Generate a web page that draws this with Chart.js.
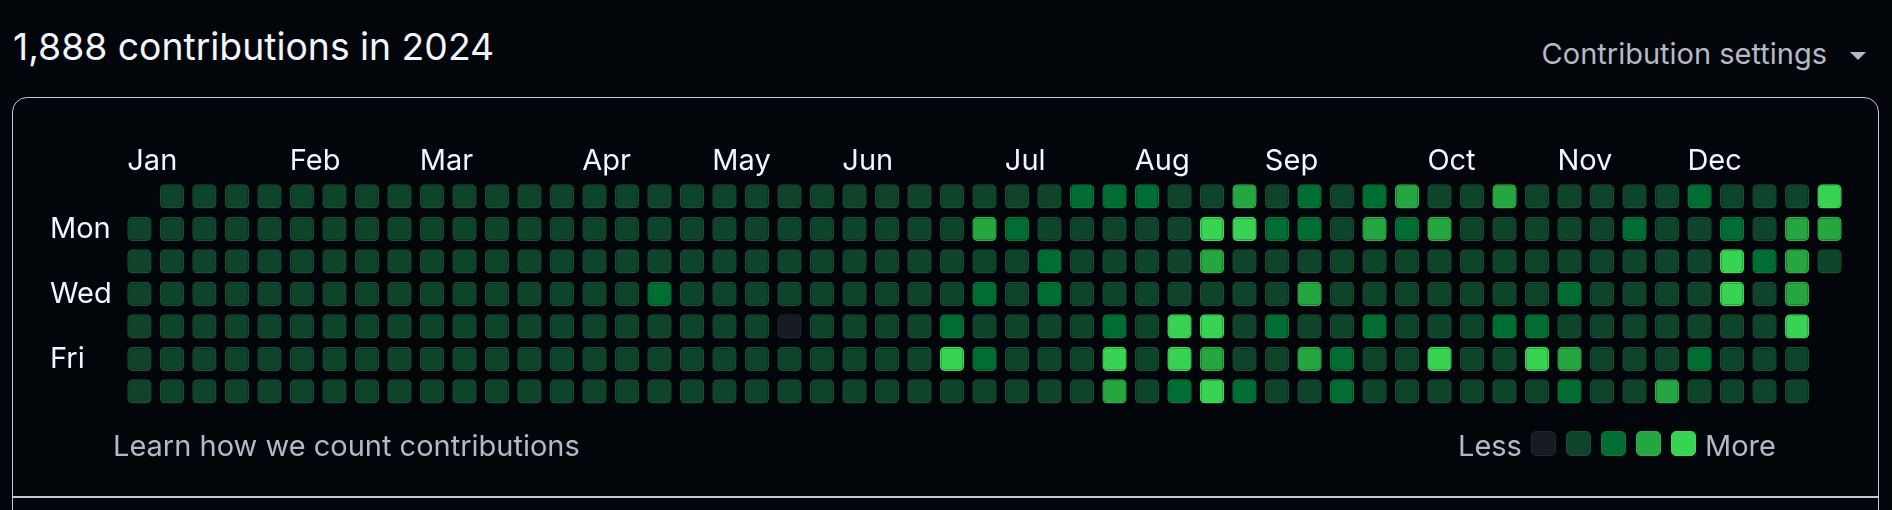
<!DOCTYPE html>
<html>
<head>
<meta charset="utf-8">
<script src="https://cdn.jsdelivr.net/npm/chart.js@4/dist/chart.umd.min.js"></script>
<style>
  html, body { margin: 0; padding: 0; background: #02050a; overflow: hidden; }
  #wrap { position: relative; width: 1892px; height: 510px; font-family: Inter, "Noto Sans", sans-serif; }
  #chart { position: absolute; left: 0; top: 0; }
  .txt { position: absolute; white-space: nowrap; line-height: 1; }
  .title { left: 13px; top: 27.5px; font-size: 37.3px; color: #f0f6fc; }
  .settings { right: 65px; top: 39px; font-size: 29px; color: #b4bac4; }
  .caret { position: absolute; left: 1850px; top: 52px; width: 0; height: 0;
    border-left: 8px solid transparent; border-right: 8px solid transparent; border-top: 8.5px solid #b4bac4; }
  .box { position: absolute; left: 11.7px; top: 96.5px; width: 1867.6px; height: 600px; box-sizing: border-box;
    border: 1.8px solid #c4c9d1; border-radius: 15px; }
  .divider { position: absolute; left: 12px; top: 495.7px; width: 1867px; height: 2px; background: #c4c9d1; }
  .learn { left: 113px; top: 431px; font-size: 29px; color: #b4bac4; }
  .less { left: 1458px; top: 431px; font-size: 29px; color: #b4bac4; }
  .more { left: 1705px; top: 431px; font-size: 29px; color: #b4bac4; }
  .sq { position: absolute; top: 431px; width: 25px; height: 25px; border-radius: 5px; box-sizing: border-box; }
</style>
</head>
<body>
<div id="wrap">
  <div class="box"></div>
  <div class="divider"></div>
  <div class="txt title">1,888 contributions in 2024</div>
  <div class="txt settings">Contribution settings</div>
  <div class="caret"></div>
  <canvas id="chart" width="1892" height="510"></canvas>
  <div class="txt learn">Learn how we count contributions</div>
  <div class="txt less">Less</div>
  <div class="txt more">More</div>
</div>
<script>
// niveles de contribución por día de la semana (una entrada por semana, null = fuera de 2024)
const sun = [null,1,1,1,1,1,1,1,1,1, 1,1,1,1,1,1,1,1,1,1, 1,1,1,1,1,1,1,1,1,2, 2,2,1,1,3,1,2,1,2,3, 1,1,3,1,1,1,1,1,2,1, 1,1,4];
const mon = [1,1,1,1,1,1,1,1,1,1, 1,1,1,1,1,1,1,1,1,1, 1,1,1,1,1,1,3,2,1,1, 1,1,1,4,4,2,2,1,3,2, 3,1,1,1,1,1,2,1,1,2, 1,3,3];
const tue = [1,1,1,1,1,1,1,1,1,1, 1,1,1,1,1,1,1,1,1,1, 1,1,1,1,1,1,1,1,2,1, 1,1,1,3,1,1,1,1,1,1, 1,1,1,1,1,1,1,1,1,4, 2,3,1];
const wed = [1,1,1,1,1,1,1,1,1,1, 1,1,1,1,1,1,2,1,1,1, 1,1,1,1,1,1,2,1,2,1, 1,1,1,1,1,1,3,1,1,1, 1,1,1,1,2,1,1,1,1,4, 1,3,null];
const thu = [1,1,1,1,1,1,1,1,1,1, 1,1,1,1,1,1,1,1,1,1, 0,1,1,1,1,2,1,1,1,1, 2,1,4,4,1,2,1,1,2,1, 1,1,2,2,1,1,1,1,1,1, 1,4,null];
const fri = [1,1,1,1,1,1,1,1,1,1, 1,1,1,1,1,1,1,1,1,1, 1,1,1,1,1,4,2,1,1,1, 4,1,4,3,1,1,3,2,1,1, 4,1,1,4,3,1,1,1,2,1, 1,1,null];
const sat = [1,1,1,1,1,1,1,1,1,1, 1,1,1,1,1,1,1,1,1,1, 1,1,1,1,1,1,1,1,1,1, 3,1,2,4,2,1,1,2,1,1, 1,1,1,1,2,1,1,3,1,1, 1,1,null];

const filas = [sun, mon, tue, wed, thu, fri, sat];
const semanas = sun.map((_, i) => "S" + (i + 1));

const meses = ["Jan", "Feb", "Mar", "Apr", "May", "Jun", "Jul", "Aug", "Sep", "Oct", "Nov", "Dec"];
const inicioMes = [0, 5, 9, 14, 18, 22, 27, 31, 35, 40, 44, 48];
const dias = ["Mon", "Wed", "Fri"];
const filaDia = [1, 3, 5];

const colores = ["#161b22", "#0e4429", "#006d32", "#26a641", "#39d353"];
const bordes = ["#22272e", "#1b4e35", "#0d763d", "#32ab4b", "#44d65c"];

// cuadros de la leyenda
colores.forEach((c, i) => {
  const d = document.createElement("div");
  d.className = "sq";
  d.style.left = (1531 + i * 35) + "px";
  d.style.background = c;
  d.style.border = "1.5px solid " + bordes[i];
  document.getElementById("wrap").appendChild(d);
});

const hueco = 0.126; // fracción de fila vacía arriba y abajo de cada celda

const datasets = filas.map((fila, r) => ({
  label: "row" + r,
  data: fila.map((lv) => (lv === null ? null : [r + hueco, r + 1 - hueco])),
  backgroundColor: fila.map((lv) => (lv === null ? "transparent" : colores[lv])),
  borderColor: fila.map((lv) => (lv === null ? "transparent" : bordes[lv])),
  borderWidth: 1.5,
  borderSkipped: false,
  borderRadius: 5,
  grouped: false,
  barPercentage: 0.748,
  categoryPercentage: 1,
}));

new Chart(document.getElementById("chart"), {
  type: "bar",
  data: { labels: semanas, datasets },
  options: {
    responsive: false,
    animation: false,
    devicePixelRatio: 1,
    layout: { padding: { left: 50, top: 130, right: 46.2, bottom: 102.3 } },
    plugins: { legend: { display: false }, tooltip: { enabled: false } },
    scales: {
      x: {
        type: "category",
        position: "top",
        offset: true,
        grid: { display: false, drawTicks: false },
        border: { display: false },
        ticks: {
          autoSkip: false,
          maxRotation: 0,
          minRotation: 0,
          align: "start",
          labelOffset: -12.15,
          padding: 2,
          color: "#f0f6fc",
          font: { family: "Inter", size: 29, lineHeight: 1.2 },
          callback: (v, i) => {
            const m = inicioMes.indexOf(i);
            return m >= 0 ? meses[m] : "";
          },
        },
        afterFit: (s) => { s.height = 50.2; },
      },
      y: {
        type: "linear",
        position: "left",
        min: 0,
        max: 7,
        reverse: true,
        grid: { display: false, drawTicks: false },
        border: { display: false },
        afterBuildTicks: (s) => { s.ticks = filaDia.map((r) => ({ value: r + 0.5 })); },
        ticks: {
          crossAlign: "far",
          color: "#f0f6fc",
          font: { family: "Inter", size: 29 },
          callback: (v) => dias[filaDia.indexOf(v - 0.5)],
        },
        afterFit: (s) => { s.width = 73.2; },
      },
    },
  },
});
</script>
</body>
</html>
